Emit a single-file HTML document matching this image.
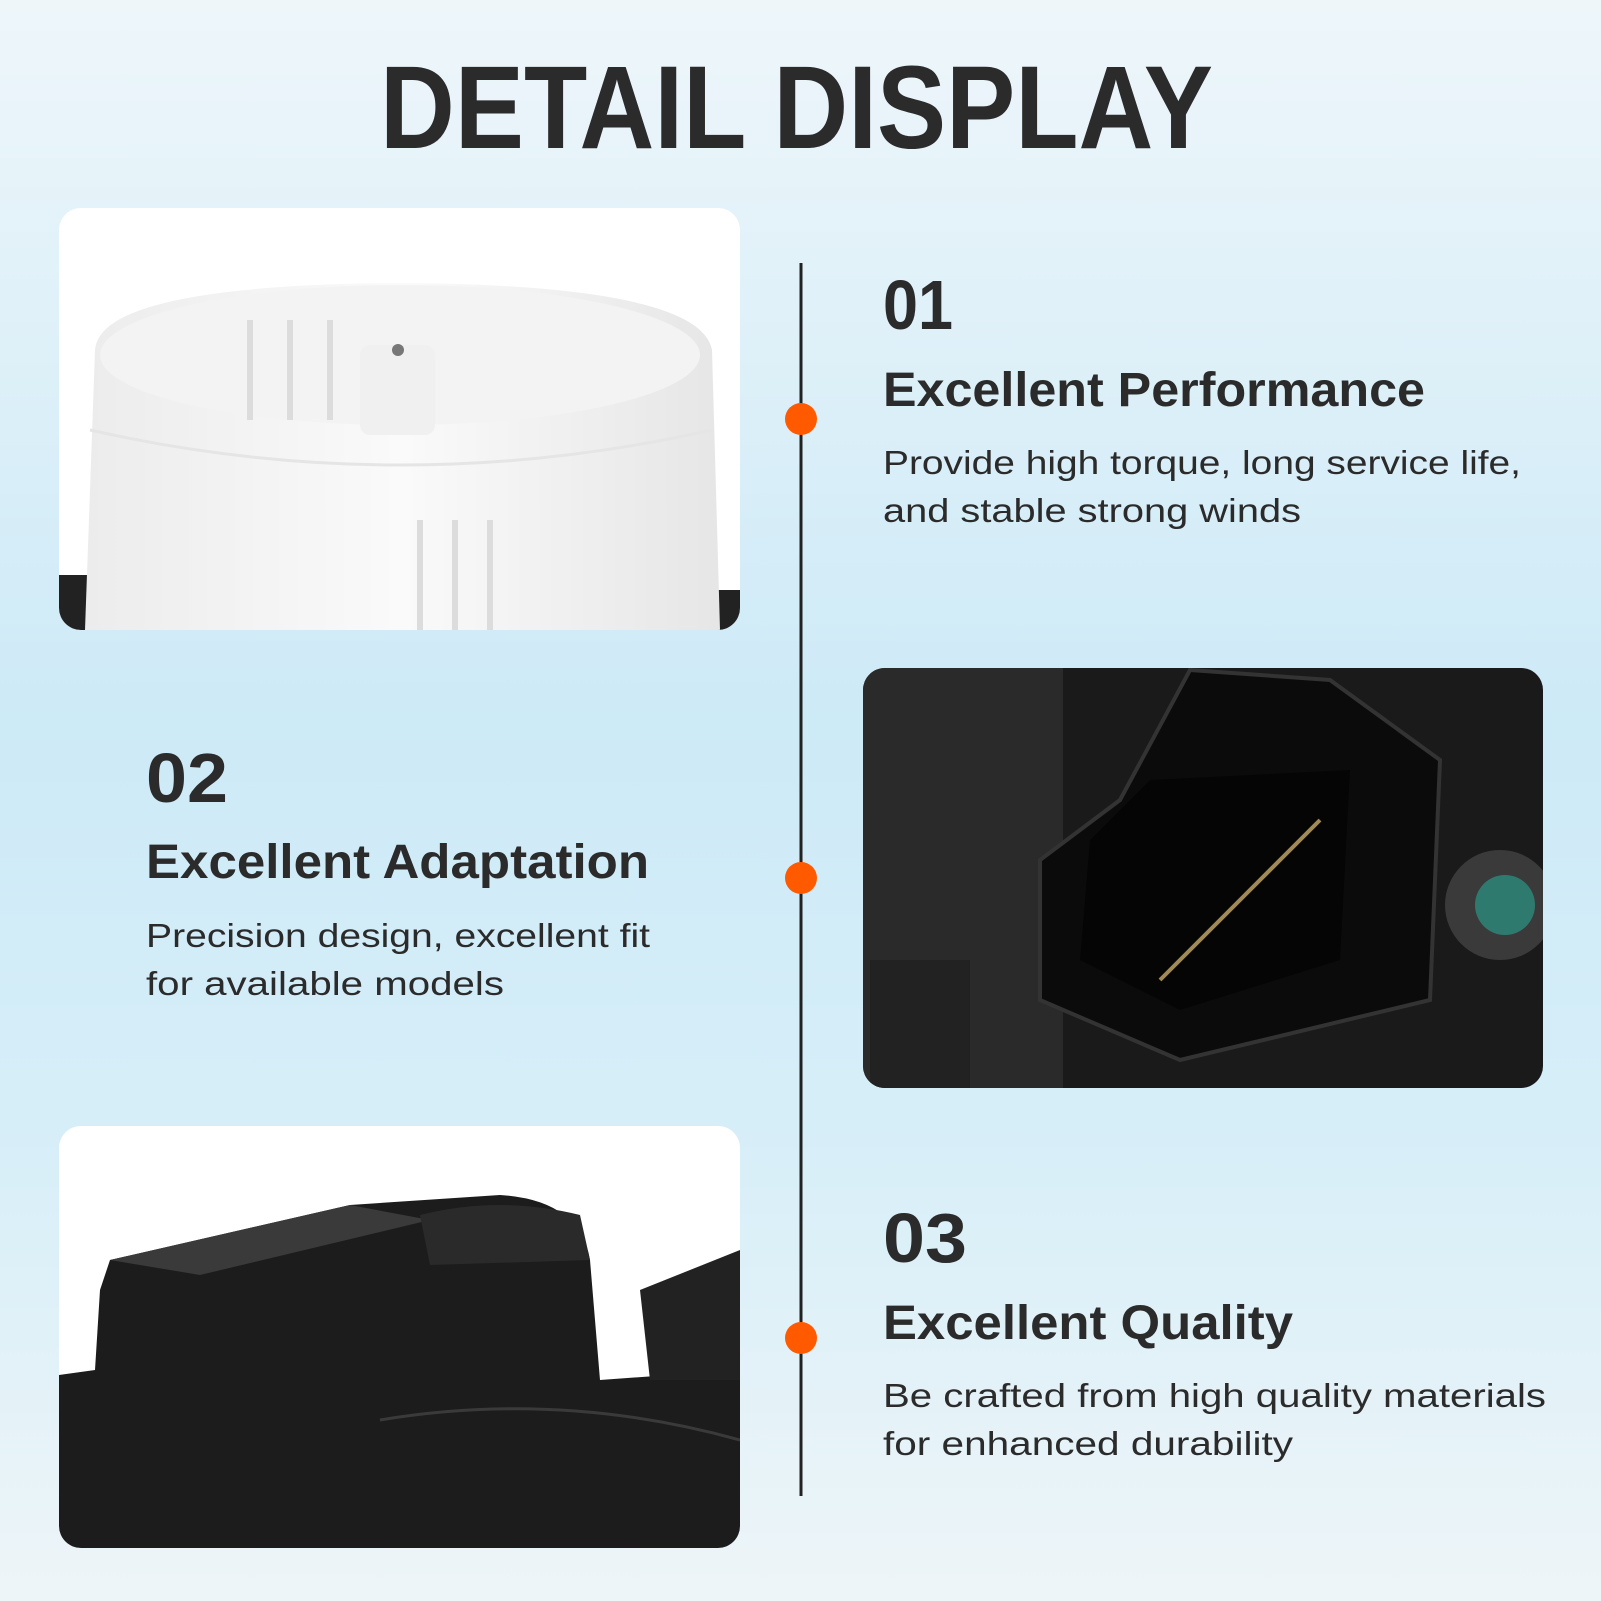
<!DOCTYPE html>
<html><head><meta charset="utf-8"><style>
html,body{margin:0;padding:0;width:1601px;height:1601px;overflow:hidden}
svg{display:block}
text{font-family:"Liberation Sans",sans-serif;fill:#2b2b2b}
</style></head><body>
<svg width="1601" height="1601" viewBox="0 0 1601 1601" xmlns="http://www.w3.org/2000/svg">
<defs>
<linearGradient id="bg" x1="0" y1="0" x2="0" y2="1">
<stop offset="0" stop-color="#eef6fa"/><stop offset="0.45" stop-color="#cdeaf7"/><stop offset="0.7" stop-color="#d6eef8"/><stop offset="1" stop-color="#eef5f8"/>
</linearGradient>
<clipPath id="c1"><rect x="59" y="208" width="681" height="422" rx="22"/></clipPath>
<clipPath id="c2"><rect x="863" y="668" width="680" height="420" rx="22"/></clipPath>
<clipPath id="c3"><rect x="59" y="1126" width="681" height="422" rx="22"/></clipPath>
<linearGradient id="fan" x1="0" y1="0" x2="1" y2="0">
<stop offset="0" stop-color="#ececec"/><stop offset="0.5" stop-color="#fafafa"/><stop offset="1" stop-color="#e6e6e6"/>
</linearGradient>
</defs>
<rect width="1601" height="1601" fill="url(#bg)"/>
<text x="380" y="148" font-size="118" font-weight="bold" textLength="833" lengthAdjust="spacingAndGlyphs">DETAIL DISPLAY</text>

<!-- panel 1 -->
<g clip-path="url(#c1)">
<rect x="59" y="208" width="681" height="422" fill="#ffffff"/>
<rect x="59" y="575" width="60" height="55" fill="#222"/>
<rect x="690" y="590" width="50" height="40" fill="#222"/>
<path d="M95 350 Q100 285 400 283 Q700 285 712 350 L720 630 L85 630 Z" fill="url(#fan)"/>
<ellipse cx="400" cy="355" rx="300" ry="70" fill="#f3f3f3"/>
<g stroke="#dcdcdc" stroke-width="6">
<line x1="250" y1="320" x2="250" y2="420"/><line x1="290" y1="320" x2="290" y2="420"/><line x1="330" y1="320" x2="330" y2="420"/>
<line x1="420" y1="520" x2="420" y2="630"/><line x1="455" y1="520" x2="455" y2="630"/><line x1="490" y1="520" x2="490" y2="630"/>
</g>
<rect x="360" y="345" width="75" height="90" rx="10" fill="#f0f0f0"/>
<circle cx="398" cy="350" r="6" fill="#777"/>
<path d="M90 430 Q400 500 712 430" stroke="#e5e5e5" stroke-width="3" fill="none"/>
</g>

<!-- panel 2 -->
<g clip-path="url(#c2)">
<rect x="863" y="668" width="680" height="420" fill="#1a1a1a"/>
<rect x="863" y="668" width="200" height="420" fill="#2a2a2a"/>
<path d="M1190 670 L1330 680 L1440 760 L1430 1000 L1180 1060 L1040 1000 L1040 860 L1120 800 Z" fill="#0b0b0b" stroke="#333" stroke-width="4"/>
<path d="M1090 840 L1150 780 L1350 770 L1340 960 L1180 1010 L1080 960 Z" fill="#050505"/>
<line x1="1160" y1="980" x2="1320" y2="820" stroke="#a08a55" stroke-width="4"/>
<circle cx="1500" cy="905" r="55" fill="#3a3a3a"/>
<circle cx="1505" cy="905" r="30" fill="#2f7a6e"/>
<rect x="870" y="960" width="100" height="128" fill="#222"/>
</g>

<!-- panel 3 -->
<g clip-path="url(#c3)">
<rect x="59" y="1126" width="681" height="422" fill="#ffffff"/>
<path d="M100 1290 L110 1260 L350 1205 L500 1195 Q580 1200 590 1260 L600 1380 L740 1370 L740 1548 L59 1548 L59 1375 L95 1370 Z" fill="#1c1c1c"/>
<path d="M110 1260 L350 1205 L430 1220 L200 1275 Z" fill="#3a3a3a"/>
<path d="M420 1215 Q500 1195 580 1215 L590 1260 L430 1265 Z" fill="#2a2a2a"/>
<path d="M640 1290 L740 1250 L740 1380 L650 1380 Z" fill="#222"/>
<path d="M380 1420 Q560 1390 740 1440" stroke="#3a3a3a" stroke-width="3" fill="none"/>
</g>

<!-- timeline -->
<line x1="801" y1="263" x2="801" y2="1496" stroke="#222" stroke-width="3"/>
<circle cx="801" cy="419" r="16" fill="#ff5a00"/>
<circle cx="801" cy="878" r="16" fill="#ff5a00"/>
<circle cx="801" cy="1338" r="16" fill="#ff5a00"/>

<!-- section 1 -->
<text x="883" y="329" font-size="70" font-weight="bold" textLength="70" lengthAdjust="spacingAndGlyphs">01</text>
<text x="883" y="406" font-size="48" font-weight="bold" textLength="542" lengthAdjust="spacingAndGlyphs">Excellent Performance</text>
<text x="883" y="474" font-size="33" textLength="638" lengthAdjust="spacingAndGlyphs">Provide high torque, long service life,</text>
<text x="883" y="522" font-size="33" textLength="418" lengthAdjust="spacingAndGlyphs">and stable strong winds</text>

<!-- section 2 -->
<text x="146" y="802" font-size="70" font-weight="bold" textLength="82" lengthAdjust="spacingAndGlyphs">02</text>
<text x="146" y="878" font-size="48" font-weight="bold" textLength="503" lengthAdjust="spacingAndGlyphs">Excellent Adaptation</text>
<text x="146" y="947" font-size="33" textLength="504" lengthAdjust="spacingAndGlyphs">Precision design, excellent fit</text>
<text x="146" y="995" font-size="33" textLength="358" lengthAdjust="spacingAndGlyphs">for available models</text>

<!-- section 3 -->
<text x="883" y="1262" font-size="70" font-weight="bold" textLength="84" lengthAdjust="spacingAndGlyphs">03</text>
<text x="883" y="1339" font-size="48" font-weight="bold" textLength="410" lengthAdjust="spacingAndGlyphs">Excellent Quality</text>
<text x="883" y="1407" font-size="33" textLength="663" lengthAdjust="spacingAndGlyphs">Be crafted from high quality materials</text>
<text x="883" y="1455" font-size="33" textLength="410" lengthAdjust="spacingAndGlyphs">for enhanced durability</text>
</svg>
</body></html>
